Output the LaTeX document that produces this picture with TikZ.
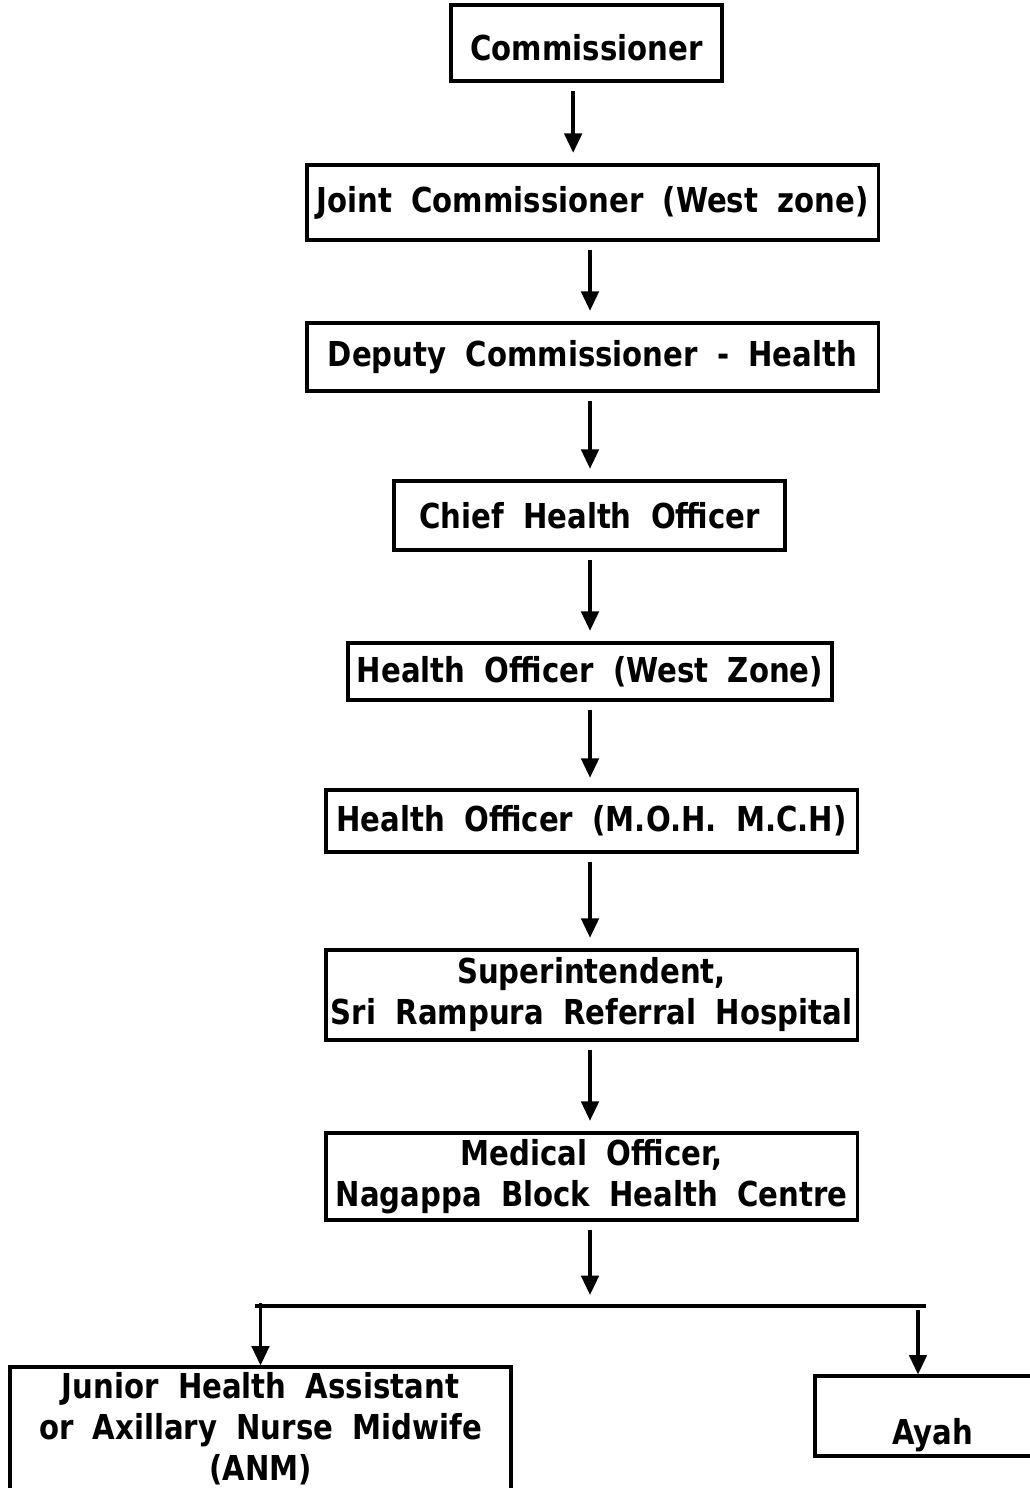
\documentclass[tikz,border=0pt]{standalone}
\usepackage{fontspec}
\usepackage{tikz}
\usetikzlibrary{arrows.meta}
\newfontfamily\tahoma[FakeStretch=0.85,WordSpace=1.9]{DejaVu Sans}

\begin{document}
\begin{tikzpicture}[x=0.03cm,y=-0.03cm,
  post/.style={draw, line width=2.6pt, align=center, inner sep=0pt,
    font=\tahoma\bfseries\fontsize{29.3}{35}\selectfont},
  arr/.style={-{Triangle[length=0.58cm,width=0.52cm]}, line width=3pt,
    shorten <=0.25cm, shorten >=0.32cm}]
\useasboundingbox (0,0) rectangle (1029,1488);
% les postes
\node [post, minimum width=8.13cm, minimum height=2.28cm, text height=1.05cm, text depth=0cm] (comm) at (586.5,43) {Commissioner};
\node [post, minimum width=17.13cm, minimum height=2.25cm] (joint) at (592.5,202.5) {Joint Commissioner (West zone)};
\node [post, minimum width=17.13cm, minimum height=2.04cm] (deputy) at (592.5,357) {Deputy Commissioner - Health};
\node [post, minimum width=11.73cm, minimum height=2.07cm] (chief) at (589.5,515.5) {Chief Health Officer};
\node [post, minimum width=14.52cm, minimum height=1.71cm] (hwest) at (590,671.5) {Health Officer (West Zone)};
\node [post, minimum width=15.93cm, minimum height=1.86cm] (hmoh) at (591.5,821) {Health Officer (M.O.H. M.C.H)};
\node [post, minimum width=15.93cm, minimum height=2.7cm] (supt) at (591.5,995) {Superintendent,\\Sri Rampura Referral Hospital};
\node [post, minimum width=15.93cm, minimum height=2.61cm] (medo) at (591.5,1176.5) {Medical Officer,\\Nagappa Block Health Centre};
\node [post, minimum width=15.03cm, minimum height=3.72cm] (jha) at (260.5,1429) {Junior Health Assistant\\or Axillary Nurse Midwife\\(ANM)};
\node [post, minimum width=7.05cm, minimum height=2.4cm, text height=1.7cm, text depth=0cm] (ayah) at (932.5,1416) {Ayah};
% les fleches
\draw[arr] ([xshift=-0.4cm]comm.south) -- ([xshift=-0.4cm]comm.south |- joint.north);
\draw[arr] (joint.south -| hwest) -- (deputy.north -| hwest);
\draw[arr] (deputy.south -| hwest) -- (chief.north -| hwest);
\draw[arr] (chief.south -| hwest) -- (hwest);
\draw[arr] (hwest) -- (hmoh.north -| hwest);
\draw[arr] (hmoh.south -| hwest) -- (supt.north -| hwest);
\draw[arr] (supt.south -| hwest) -- (medo.north -| hwest);
%branchement du bas
\coordinate (bl) at (255,1306);
\coordinate (br) at (926,1306);
\coordinate (bm) at (590,1306);
\draw[line width=3pt] (bl) -- (br);
\draw[arr, shorten >=0.33cm] (medo.south -| bm) -- (bm);
\draw[arr, shorten <=0pt, shorten >=0pt] ([yshift=0.09cm]bl -| jha.north) -- (jha.north);
\draw[arr, shorten <=0.12cm, shorten >=0pt] (br -| 918,0) -- (ayah.north -| 918,0);
\end{tikzpicture}
\end{document}
